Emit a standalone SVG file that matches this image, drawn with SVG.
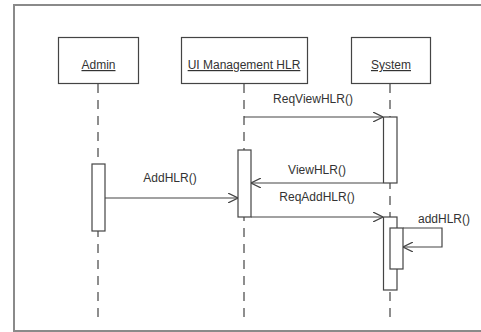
<svg xmlns="http://www.w3.org/2000/svg" width="481" height="332" viewBox="0 0 481 332">
<defs>
<style>
.frame{fill:none;stroke:#8a8a8a;stroke-width:2}
.box{fill:#fff;stroke:#444;stroke-width:1.2}
.life{stroke:#444;stroke-width:1.2;stroke-dasharray:9,7;fill:none}
.act{fill:#fff;stroke:#444;stroke-width:1.2}
.msg{stroke:#444;stroke-width:1.2;fill:none;marker-end:url(#arr)}
text{font-family:"Liberation Sans",Arial,sans-serif;font-size:12px;fill:#333;text-anchor:middle}
.u{text-decoration:underline}
</style>
<marker id="arr" viewBox="0 0 10 10" refX="10" refY="5" markerWidth="10" markerHeight="10" markerUnits="userSpaceOnUse" orient="auto">
<path d="M0,0 L10,5 L0,10" fill="none" stroke="#444" stroke-width="1.2"/>
</marker>
</defs>
<rect width="481" height="332" fill="#fff"/>
<path class="frame" d="M490,5 H14 V331 H490"/>
<g id="admin">
<line class="life" x1="98" y1="84" x2="98" y2="318"/>
<rect class="box" x="58.5" y="37.5" width="80" height="46"/>
<text class="u" x="98.5" y="69">Admin</text>
<rect class="act" x="92" y="164" width="13" height="67"/>
</g>
<g id="ui">
<line class="life" x1="244" y1="84" x2="244" y2="322"/>
<rect class="box" x="181.5" y="37.5" width="126" height="46"/>
<text class="u" x="244" y="69">UI Management HLR</text>
<rect class="act" x="238" y="150" width="13" height="67"/>
</g>
<g id="system">
<line class="life" x1="390" y1="84" x2="390" y2="322"/>
<rect class="box" x="351.5" y="37.5" width="79" height="46"/>
<text class="u" x="391" y="69">System</text>
<rect class="act" x="383.5" y="117" width="13.5" height="66"/>
<rect class="act" x="383.5" y="217" width="13.5" height="73"/>
<rect class="act" x="390" y="228" width="13" height="41"/>
</g>
<g id="connectors">
<line class="msg" x1="244" y1="117" x2="383" y2="117"/>
<text x="313" y="103">ReqViewHLR()</text>
<line class="msg" x1="383" y1="183" x2="251" y2="183"/>
<text x="317" y="174">ViewHLR()</text>
<line class="msg" x1="105" y1="198" x2="238" y2="198"/>
<text x="170" y="182">AddHLR()</text>
<line class="msg" x1="251" y1="217" x2="383" y2="217"/>
<text x="317" y="201">ReqAddHLR()</text>
<path class="msg" d="M403,228 H442 V247 H403"/>
<text x="444" y="223">addHLR()</text>
</g>
</svg>
